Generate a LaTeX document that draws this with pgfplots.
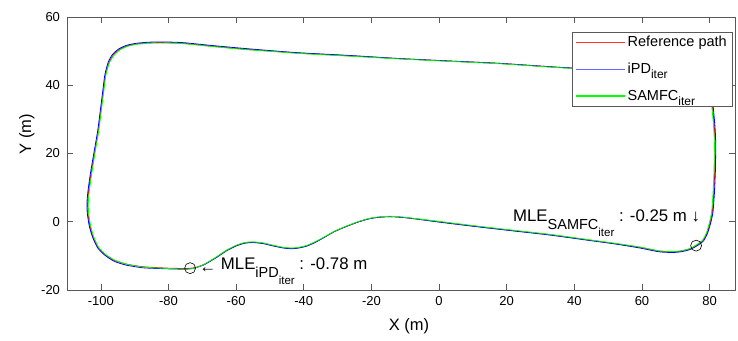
\documentclass[border=0pt]{standalone}
\usepackage{fontspec}
\setmainfont{Liberation Sans}
\usepackage{pgfplots}
\pgfplotsset{compat=1.18}
\newcommand{\fs}[1]{\fontsize{#1}{#1}\selectfont}
\newcommand{\subs}[2]{\raisebox{-8pt}{\fs{14.5}#1\raisebox{-7pt}{\fs{11.5}#2}}}
\newcommand{\lsub}[1]{\raisebox{-5pt}{\fs{12}#1}}
\definecolor{mred}{rgb}{1,0,0}
\definecolor{mblue}{rgb}{0,0,1}
\definecolor{mgreen}{rgb}{0,1,0}
\definecolor{lblue}{rgb}{0.4,0.4,1}
\begin{document}
\begin{tikzpicture}
\path[use as bounding box] (-67pt,-50pt) rectangle (671pt,290pt);
\begin{axis}[
 scale only axis, width=668pt, height=273pt,
 xmin=-110, xmax=87.5, ymin=-20, ymax=60,
 xtick={-100,-80,...,80}, ytick={-20,0,...,60},
 tick align=inside, major tick length=6pt,
 axis line style={black!65, line width=0.6pt},
 every tick/.style={black!65, line width=0.6pt},
 tick label style={font=\fs{13}},
 /pgf/number format/assume math mode=true,
 yticklabel style={xshift=-3.5pt},
 xticklabel style={yshift=-3pt},
 xlabel={X (m)}, ylabel={Y (m)},
 label style={font=\fs{16.5}},
 xlabel style={at={(axis description cs:0.512,-0.132)}, anchor=center},
 ylabel style={at={(axis description cs:-0.06,0.57)}, anchor=center},
 legend style={at={(rel axis cs:0.9955,0.945)}, anchor=north east, draw=black!65, font=\fs{14.5}, inner xsep=3pt, inner ysep=2pt, row sep=11pt, nodes={inner sep=2pt}},
 legend cell align=left,
]
\addlegendimage{legend image code/.code={\draw[mred!80!white, line width=1.1pt] (0pt,0pt) -- (49pt,0pt);}}
\addlegendentry{Reference path}
\addlegendimage{legend image code/.code={\draw[lblue, line width=1.1pt] (0pt,0pt) -- (49pt,0pt);}}
\addlegendentry{iPD\lsub{iter}}
\addlegendimage{legend image code/.code={\draw[mgreen, line width=1.1pt] (0pt,0pt) -- (49pt,0pt);}}
\addlegendentry{SAMFC\lsub{iter}}
\addplot[forget plot, draw=mred, line width=0.8pt, smooth, tension=0.4] coordinates {
(-101.7,21.0) (-100.7,26.8) (-99.9,33.0) (-99.2,38.5) (-98.6,43.0) (-97.6,46.6) (-96.3,48.9) (-94.5,50.5) (-92.3,51.5) (-89.5,52.1) (-86,52.4) (-82.5,52.5) (-78,52.4) (-74.6,52.2) (-67.7,51.5) (-57.8,50.6) (-48,49.9) (-41.1,49.4) (-26,48.6) (-11.5,47.8) (3,47.1) (18,46.4) (36.3,45.2) (55,44.3) (70,43.6) (76,42.7) (79,40.5) (80.4,37) (80.9,33.2) (81.4,27.5) (81.6,22.9) (81.5,15) (81.2,8.3) (80.8,3) (80.2,0) (79.3,-3.2) (78.0,-5.5) (76.0,-7.0) (74.0,-8.0) (71.5,-8.6) (69.0,-8.8) (65,-8.6) (59.4,-7.5) (52,-6.4) (44.6,-5.4) (32.8,-3.8) (23,-2.7) (15,-1.8) (8.2,-1.0) (0,0) (-6.6,0.8) (-11,1.3) (-14.5,1.5) (-18,1.3) (-21,0.8) (-24.3,-0.2) (-28,-1.6) (-31.2,-3.0) (-34,-4.6) (-36.5,-5.9) (-39,-7.0) (-41.5,-7.6) (-43.5,-7.8) (-46,-7.6) (-49,-7.0) (-52,-6.3) (-55,-6.0) (-57.5,-6.2) (-60,-7.0) (-62.8,-8.4) (-66,-10.5) (-69.5,-12.5) (-72,-13.4) (-74.6,-13.7) (-80,-13.6) (-87.4,-13.2) (-92.5,-12.4) (-96,-11.3) (-98.8,-9.6) (-100.8,-7.5) (-102.3,-4.5) (-103.2,-1.2) (-103.8,2.5) (-103.9,5.5) (-103.6,9.0) (-102.9,14.0) (-101.7,21.0)
};
\addplot[forget plot, draw=mblue, line width=0.8pt, smooth, tension=0.4] coordinates {
(-101.9,21.0) (-100.9,26.8) (-100.1,33.0) (-99.4,38.5) (-98.8,43.1) (-97.8,46.8) (-96.5,49.1) (-94.6,50.7) (-92.4,51.7) (-89.5,52.3) (-86,52.6) (-82.5,52.7) (-78,52.6) (-74.6,52.4) (-67.7,51.7) (-57.8,50.8) (-48,50.0) (-41.1,49.5) (-26,48.7) (-11.5,47.8) (3,47.1) (18,46.4) (36.3,45.2) (55,44.3) (70,43.7) (76.2,42.8) (79.2,40.6) (80.6,37.1) (81.1,33.2) (81.6,27.5) (81.8,22.9) (81.7,15) (81.4,8.3) (81.0,3) (80.4,0) (79.4,-3.3) (78.1,-5.7) (76.0,-7.2) (74.0,-8.2) (71.5,-8.8) (69.0,-9.0) (65,-8.8) (59.4,-7.7) (52,-6.5) (44.6,-5.5) (32.8,-3.9) (23,-2.8) (15,-1.9) (8.2,-1.1) (0,-0.1) (-6.6,0.8) (-11,1.3) (-14.5,1.5) (-18,1.3) (-21,0.8) (-24.3,-0.2) (-28,-1.6) (-31.2,-3.0) (-34,-4.6) (-36.5,-6.0) (-39,-7.1) (-41.5,-7.7) (-43.5,-7.9) (-46,-7.7) (-49,-7.1) (-52,-6.4) (-55,-6.1) (-57.5,-6.3) (-60,-7.1) (-62.8,-8.5) (-66,-10.6) (-69.5,-12.6) (-72,-13.5) (-74.6,-13.9) (-80,-13.8) (-87.4,-13.5) (-92.5,-12.7) (-96,-11.6) (-98.8,-9.8) (-100.9,-7.7) (-102.4,-4.6) (-103.4,-1.3) (-104.0,2.5) (-104.1,5.5) (-103.8,9.0) (-103.1,14.0) (-101.9,21.0)
};
\addplot[forget plot, draw=mgreen, line width=0.8pt, smooth, tension=0.4] coordinates {
(-101.6,21.0) (-100.6,26.8) (-99.8,33.0) (-99.1,38.5) (-98.5,43.0) (-97.5,46.5) (-96.1,48.8) (-94.3,50.4) (-92.1,51.4) (-89.4,52.0) (-86,52.3) (-82.5,52.4) (-78,52.3) (-74.6,52.1) (-67.7,51.4) (-57.8,50.5) (-48,49.8) (-41.1,49.3) (-26,48.5) (-11.5,47.7) (3,47.0) (18,46.3) (36.3,45.1) (55,44.2) (70,43.5) (75.9,42.6) (78.9,40.4) (80.2,37) (80.7,33.2) (81.2,27.5) (81.4,22.9) (81.3,15) (81.0,8.3) (80.6,3) (80.0,0) (79.1,-3.1) (77.9,-5.4) (75.9,-6.9) (74.0,-7.9) (71.5,-8.5) (69.0,-8.7) (65,-8.5) (59.4,-7.4) (52,-6.3) (44.6,-5.3) (32.8,-3.7) (23,-2.6) (15,-1.7) (8.2,-0.9) (0,0.1) (-6.6,0.9) (-11,1.4) (-14.5,1.6) (-18,1.4) (-21,0.9) (-24.3,-0.1) (-28,-1.5) (-31.2,-2.9) (-34,-4.5) (-36.5,-5.8) (-39,-6.9) (-41.5,-7.5) (-43.5,-7.7) (-46,-7.5) (-49,-6.9) (-52,-6.2) (-55,-5.9) (-57.5,-6.1) (-60,-6.9) (-62.8,-8.3) (-66,-10.4) (-69.5,-12.5) (-72,-13.5) (-74.6,-13.9) (-80,-13.7) (-87.4,-13.3) (-92.5,-12.4) (-96,-11.2) (-98.7,-9.5) (-100.7,-7.4) (-102.1,-4.4) (-103.0,-1.2) (-103.6,2.5) (-103.7,5.5) (-103.4,9.0) (-102.7,14.0) (-101.6,21.0)
};
\addplot[forget plot, only marks, mark=o, mark size=5.5pt, mark options={black, line width=0.6pt}] coordinates {(-73.6,-13.6) (76.0,-7.0)};
\node[anchor=base west, inner sep=0pt, font=\fs{16.8}] at (axis cs:-70.9,-14.1) {\raisebox{-0.15em}{←}\ MLE\subs{iPD}{iter} : -0.78 m};
\node[anchor=base east, inner sep=0pt, font=\fs{16.8}] at (axis cs:77.2,0) {MLE\subs{SAMFC}{iter} : -0.25 m ↓};
\end{axis}
\end{tikzpicture}
\end{document}
